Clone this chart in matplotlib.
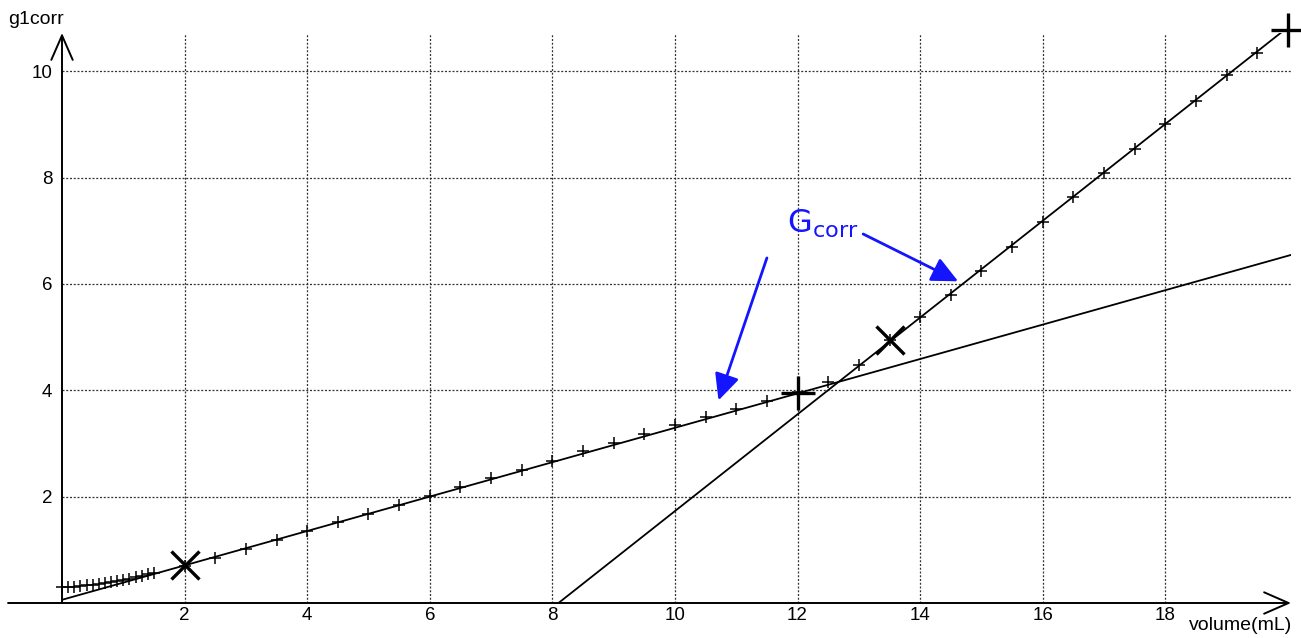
"""
Conductometric titration: corrected conductance g1corr against added volume,
with the two fitted straight lines and the equivalence construction.
"""

import numpy as np
import matplotlib
matplotlib.use('Agg')
import matplotlib.pyplot as plt

plt.rcParams['font.family'] = ['Liberation Sans', 'DejaVu Sans']

# measured points (volume in mL, corrected conductance)
volume = [0.0, 0.1, 0.2, 0.3, 0.4, 0.5, 0.6, 0.7, 0.8, 0.9, 1.0, 1.1, 1.2,
          1.3, 1.4, 1.5, 2.0, 2.5, 3.0, 3.5, 4.0, 4.5, 5.0, 5.5, 6.0, 6.5,
          7.0, 7.5, 8.0, 8.5, 9.0, 9.5, 10.0, 10.5, 11.0, 11.5, 12.0, 12.5,
          13.0, 13.5, 14.0, 14.5, 15.0, 15.5, 16.0, 16.5, 17.0, 17.5, 18.0,
          18.5, 19.0, 19.5, 20.0]
g1corr = [0.30, 0.30, 0.31, 0.32, 0.33, 0.34, 0.35, 0.37, 0.39, 0.41, 0.43,
          0.46, 0.48, 0.51, 0.54, 0.57, 0.70, 0.85, 1.02, 1.18, 1.35, 1.52,
          1.68, 1.84, 2.01, 2.18, 2.35, 2.51, 2.68, 2.85, 3.01, 3.18, 3.35,
          3.50, 3.65, 3.80, 3.96, 4.15, 4.48, 4.94, 5.38, 5.80, 6.24, 6.70,
          7.17, 7.63, 8.08, 8.53, 9.00, 9.45, 9.93, 10.35, 10.78]

# fitted lines: slope, intercept, volume range
lower_fit = (0.3235, 0.06)
lower_range = (0.0, 20.05)
upper_fit = (0.91, -7.371)
upper_range = (8.1, 20.0)

# construction marks
cross_x = [2.0, 13.5]
cross_y = [0.72, 4.94]
plus_x = [12.0, 20.0]
plus_y = [3.95, 10.78]

# annotation arrows (start, tip)
arrow_starts = [(11.50, 6.49), (13.07, 6.94)]
arrow_tips = [(10.71, 3.81), (14.62, 6.05)]

xticks = [2, 4, 6, 8, 10, 12, 14, 16, 18]
yticks = [2, 4, 6, 8, 10]

W, H, DPI = 1301, 638, 100
BLUE = '#1414ff'

fig = plt.figure(figsize=(W / DPI, H / DPI), dpi=DPI)
ax = fig.add_axes([62 / W, 35 / H, 1229 / W, 570 / H])
ax.set_xlim(0, 20.05)
ax.set_ylim(0, 10.72)

for s in ax.spines.values():
    s.set_visible(False)

ax.set_xticks(xticks)
ax.set_yticks(yticks)
ax.tick_params(length=0, labelsize=13.5)
ax.tick_params(axis='x', pad=3)
ax.tick_params(axis='y', pad=7)
ax.grid(True, linestyle=(0, (1.6, 1.4)), color='#333333', lw=0.9)
ax.set_axisbelow(True)

# axes drawn as arrows
arrow_kw = dict(arrowstyle='->,head_length=0.8,head_width=0.35',
                lw=1.4, color='black', mutation_scale=22,
                shrinkA=0, shrinkB=0)
ax.annotate('', xy=(20.05, 0), xytext=(-0.88, 0), arrowprops=arrow_kw,
            annotation_clip=False)
ax.annotate('', xy=(0, 10.72), xytext=(0, 0), arrowprops=arrow_kw,
            annotation_clip=False)

# fitted lines
xl = np.linspace(*lower_range, 2)
ax.plot(xl, lower_fit[0] * xl + lower_fit[1], color='black', lw=1.3)
xu = np.linspace(*upper_range, 2)
ax.plot(xu, upper_fit[0] * xu + upper_fit[1], color='black', lw=1.3)

# data points
ax.plot(volume, g1corr, ls='none', marker='+', ms=8, mew=1.1,
        color='black', clip_on=False)

# construction marks
ax.plot(cross_x, cross_y, ls='none', marker='x', ms=20, mew=2.4,
        color='black', clip_on=False)
ax.plot(plus_x, plus_y, ls='none', marker='+', ms=24, mew=2.4,
        color='black', clip_on=False)

# G_corr annotation
ax.text(11.82, 6.97, r'$\mathsf{G}_{\mathsf{corr}}$', color=BLUE,
        fontsize=23, ha='left', va='baseline')
blue_kw = dict(arrowstyle='-|>,head_length=0.8,head_width=0.38',
               lw=2.0, color=BLUE, mutation_scale=20, shrinkA=0, shrinkB=0)
for start, tip in zip(arrow_starts, arrow_tips):
    ax.annotate('', xy=tip, xytext=start, arrowprops=blue_kw)

fig.text(8 / W, 1 - 20 / H, 'g1corr', ha='left', va='center', fontsize=14)
fig.text(1292 / W, 1 - 626 / H, 'volume(mL)', ha='right', va='center',
         fontsize=14)

fig.savefig('out.png', dpi=DPI)
